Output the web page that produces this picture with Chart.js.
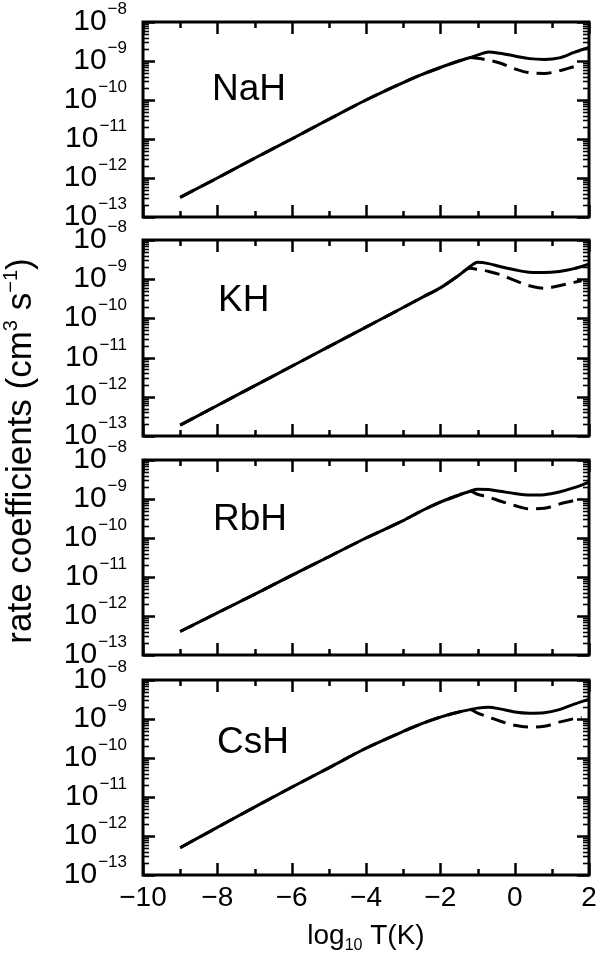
<!DOCTYPE html>
<html>
<head>
<meta charset="utf-8">
<script src="https://cdn.jsdelivr.net/npm/chart.js@4/dist/chart.umd.min.js"></script>
<style>
  html, body { margin: 0; padding: 0; background: #fff; }
  #wrap { position: relative; width: 606px; height: 954px; }
  #wrap canvas { position: absolute; left: 0; top: 0; }
</style>
</head>
<body>
<div id="wrap">
  <canvas id="p0" width="606" height="954"></canvas>
  <canvas id="p1" width="606" height="954"></canvas>
  <canvas id="p2" width="606" height="954"></canvas>
  <canvas id="p3" width="606" height="954"></canvas>
</div>
<script>
// log10 T(K)
const temps       = [-9, -8, -7, -6, -5, -4, -3, -2.5, -2, -1.5, -1.2, -1, -0.7, -0.4, 0, 0.4, 0.8, 1.2, 1.6, 2];
const tempsDashed = [-9, -8, -7, -6, -5, -4, -3, -2.5, -2, -1.5, -1.2, -1, -0.7, -0.4, 0, 0.4, 0.8, 1.2, 1.6, 1.8];

// rate coefficients (cm^3 s^-1)
const naSolid  = [3.2e-13, 1.0e-12, 3.2e-12, 1.0e-11, 3.2e-11, 1.0e-10, 2.8e-10, 4.5e-10, 6.8e-10, 1.0e-9, 1.23e-9, 1.41e-9, 1.7e-9, 1.58e-9, 1.35e-9, 1.15e-9, 1.10e-9, 1.20e-9, 1.66e-9, 2.24e-9];
const naDashed = [3.2e-13, 1.0e-12, 3.2e-12, 1.0e-11, 3.2e-11, 1.0e-10, 2.8e-10, 4.5e-10, 6.8e-10, 1.0e-9, 1.23e-9, 1.17e-9, 1.05e-9, 8.9e-10, 6.3e-10, 5.0e-10, 4.8e-10, 5.6e-10, 7.2e-10, 7.9e-10];
const kSolid   = [1.9e-13, 6.0e-13, 1.9e-12, 6.0e-12, 1.9e-11, 6.0e-11, 1.9e-10, 3.4e-10, 6.0e-10, 1.26e-9, 2.1e-9, 2.7e-9, 2.5e-9, 2.1e-9, 1.74e-9, 1.51e-9, 1.48e-9, 1.58e-9, 1.86e-9, 2.4e-9];
const kDashed  = [1.9e-13, 6.0e-13, 1.9e-12, 6.0e-12, 1.9e-11, 6.0e-11, 1.9e-10, 3.4e-10, 6.0e-10, 1.26e-9, 1.9e-9, 1.78e-9, 1.58e-9, 1.32e-9, 9.3e-10, 6.8e-10, 5.9e-10, 6.8e-10, 8.3e-10, 9.1e-10];
const rbSolid  = [4.0e-13, 1.2e-12, 3.6e-12, 1.1e-11, 3.3e-11, 1.0e-10, 2.8e-10, 5.0e-10, 8.3e-10, 1.26e-9, 1.58e-9, 1.78e-9, 1.74e-9, 1.58e-9, 1.38e-9, 1.26e-9, 1.29e-9, 1.51e-9, 1.95e-9, 2.7e-9];
const rbDashed = [4.0e-13, 1.2e-12, 3.6e-12, 1.1e-11, 3.3e-11, 1.0e-10, 2.8e-10, 5.0e-10, 8.3e-10, 1.26e-9, 1.58e-9, 1.32e-9, 1.12e-9, 8.9e-10, 6.8e-10, 5.6e-10, 5.8e-10, 7.4e-10, 9.1e-10, 1.0e-9];
const csSolid  = [5.0e-13, 1.66e-12, 5.5e-12, 1.78e-11, 5.6e-11, 1.78e-10, 4.8e-10, 7.6e-10, 1.12e-9, 1.51e-9, 1.74e-9, 1.9e-9, 2.0e-9, 1.82e-9, 1.51e-9, 1.41e-9, 1.45e-9, 1.74e-9, 2.4e-9, 3.2e-9];
const csDashed = [5.0e-13, 1.66e-12, 5.5e-12, 1.78e-11, 5.6e-11, 1.78e-10, 4.8e-10, 7.6e-10, 1.12e-9, 1.51e-9, 1.74e-9, 1.41e-9, 1.12e-9, 8.9e-10, 6.9e-10, 6.2e-10, 6.5e-10, 8.3e-10, 1.02e-9, 1.1e-9];

const panelNames = ['NaH', 'KH', 'RbH', 'CsH'];
const xTickValues = [-10, -9, -8, -7, -6, -5, -4, -3, -2, -1, 0, 1, 2];
const xTickLabels = ['\u221210', '\u22128', '\u22126', '\u22124', '\u22122', '0', '2'];
const yDecades = [-13, -12, -11, -10, -9, -8];

const panels = [
  { solid: naSolid, dashed: naDashed, top: 22,  bottom: 217, lx: 212, ly: 100 },
  { solid: kSolid,  dashed: kDashed,  top: 240, bottom: 436, lx: 218, ly: 311 },
  { solid: rbSolid, dashed: rbDashed, top: 460, bottom: 655, lx: 213, ly: 530 },
  { solid: csSolid, dashed: csDashed, top: 680, bottom: 875, lx: 217, ly: 753 }
];

const FONT = '"Liberation Sans", Arial, Helvetica, sans-serif';

function seg(ctx, x1, y1, x2, y2) {
  ctx.beginPath(); ctx.moveTo(x1, y1); ctx.lineTo(x2, y2); ctx.stroke();
}

const framePlugin = {
  id: 'frame',
  afterDatasetsDraw(chart, args, opts) {
    const ctx = chart.ctx;
    const a = chart.chartArea;
    const xs = chart.scales.x, ys = chart.scales.y;
    ctx.save();
    ctx.strokeStyle = '#000';
    ctx.fillStyle = '#000';

    // x ticks, inside, top and bottom
    ctx.lineWidth = 2.5;
    xTickValues.forEach(v => {
      const px = Math.round(xs.getPixelForValue(v)) + 0.5;
      const len = v % 2 === 0 ? 12 : 6;
      seg(ctx, px, a.bottom, px, a.bottom - len);
      seg(ctx, px, a.top, px, a.top + len);
    });

    // y ticks, major and minor, left and right
    yDecades.forEach(e => {
      for (let m = 1; m <= 9; m++) {
        if (e === -8 && m > 1) break;
        const py = Math.round(ys.getPixelForValue(m * Math.pow(10, e))) + 0.5;
        const len = m === 1 ? 12 : 6;
        ctx.lineWidth = m === 1 ? 2.5 : 1.6;
        seg(ctx, a.left, py, a.left + len, py);
        seg(ctx, a.right, py, a.right - len, py);
      }
    });

    ctx.lineWidth = 3;
    ctx.strokeRect(a.left, a.top, a.right - a.left, a.bottom - a.top);

    // y tick labels 10^n
    ctx.textBaseline = 'alphabetic';
    yDecades.forEach(e => {
      const py = ys.getPixelForValue(Math.pow(10, e));
      const expStr = '\u2212' + Math.abs(e);
      ctx.font = '17px ' + FONT;
      const we = ctx.measureText(expStr).width;
      const right = 127;
      ctx.textAlign = 'left';
      ctx.fillText(expStr, right - we, py - 8);
      ctx.font = '30px ' + FONT;
      ctx.textAlign = 'right';
      ctx.fillText('10', right - we - 1, py + 8);
    });

    // panel label
    ctx.font = '37px ' + FONT;
    ctx.textAlign = 'left';
    ctx.fillText(opts.label, opts.lx, opts.ly);

    if (opts.last) {
      ctx.font = '28px ' + FONT;
      ctx.textAlign = 'center';
      xTickValues.filter(v => v % 2 === 0).forEach((v, i) => {
        ctx.fillText(xTickLabels[i], xs.getPixelForValue(v), 906);
      });
      // x title: log10 T(K)
      ctx.font = '28px ' + FONT;
      const w1 = ctx.measureText('log').width;
      const w3 = ctx.measureText(' T(K)').width;
      ctx.font = '16px ' + FONT;
      const w2 = ctx.measureText('10').width;
      const cx = (a.left + a.right) / 2;
      const x0 = cx - (w1 + w2 + w3) / 2;
      ctx.textAlign = 'left';
      ctx.font = '28px ' + FONT;
      ctx.fillText('log', x0, 944);
      ctx.font = '16px ' + FONT;
      ctx.fillText('10', x0 + w1, 950);
      ctx.font = '28px ' + FONT;
      ctx.fillText(' T(K)', x0 + w1 + w2, 944);
    }

    if (opts.first) {
      // y title, rotated
      const parts = [
        ['rate coefficients (cm', 35, 0],
        ['3', 20, -14],
        [' s', 35, 0],
        ['\u22121', 20, -14],
        [')', 35, 0]
      ];
      let total = 0;
      parts.forEach(p => { ctx.font = p[1] + 'px ' + FONT; p.push(ctx.measureText(p[0]).width); total += p[3]; });
      ctx.translate(31, 451);
      ctx.rotate(-Math.PI / 2);
      let x0 = -total / 2;
      ctx.textAlign = 'left';
      parts.forEach(p => {
        ctx.font = p[1] + 'px ' + FONT;
        ctx.fillText(p[0], x0, p[2]);
        x0 += p[3];
      });
    }
    ctx.restore();
  }
};

panels.forEach((p, i) => {
  const ctx = document.getElementById('p' + i).getContext('2d');
  new Chart(ctx, {
    type: 'line',
    data: {
      datasets: [
        {
          label: 'dashed',
          data: tempsDashed.map((t, k) => ({ x: t, y: p.dashed[k] })),
          borderColor: '#000',
          borderWidth: 3,
          borderDash: [15, 8],
          pointRadius: 0,
          cubicInterpolationMode: 'monotone',
          fill: false
        },
        {
          label: 'solid',
          data: temps.map((t, k) => ({ x: t, y: p.solid[k] })),
          borderColor: '#000',
          borderWidth: 3,
          pointRadius: 0,
          cubicInterpolationMode: 'monotone',
          fill: false
        }
      ]
    },
    options: {
      responsive: false,
      animation: false,
      devicePixelRatio: 1,
      layout: { padding: { left: 143, right: 17, top: p.top, bottom: 954 - p.bottom } },
      plugins: {
        legend: { display: false },
        tooltip: { enabled: false },
        frame: { label: panelNames[i], lx: p.lx, ly: p.ly, first: i === 0, last: i === panels.length - 1 }
      },
      scales: {
        x: { type: 'linear', min: -10, max: 2, display: false },
        y: { type: 'logarithmic', min: 1e-13, max: 1e-8, display: false }
      }
    },
    plugins: [framePlugin]
  });
});
</script>
</body>
</html>
